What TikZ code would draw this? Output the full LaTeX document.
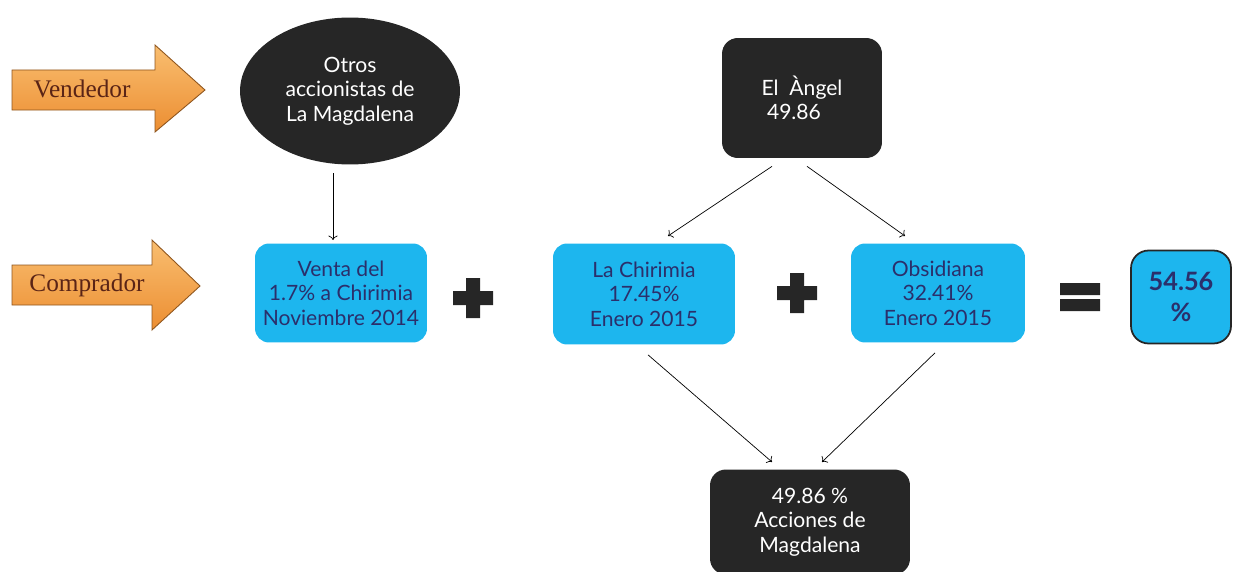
\documentclass[tikz,border=0pt]{standalone}
\usepackage{fontspec}
\setmainfont{Liberation Serif}
\setsansfont{Lato}
\usetikzlibrary{shapes.geometric,arrows.meta}

\definecolor{oscuro}{HTML}{262626}
\definecolor{celeste}{HTML}{1DB6EE}
\definecolor{azultxt}{HTML}{2B2F6B}
\definecolor{naranja}{HTML}{EC8E32}
\definecolor{naranjaclaro}{HTML}{F9BE70}
\definecolor{marron}{HTML}{5A2416}

\tikzset{
	negro/.style={fill=oscuro,text=white,font=\sffamily\large,align=center,inner sep=2pt},
	caja/.style={rectangle,rounded corners=8pt,fill=celeste,text=azultxt,font=\sffamily\large,align=center,inner sep=2pt},
	flecha/.style={top color=naranjaclaro,bottom color=naranja,draw=naranja!60!black,line width=0.5pt},
	signo/.style={fill=oscuro}
}

\begin{document}
\begin{tikzpicture}[x=0.02cm,y=-0.02cm]
	\useasboundingbox (0,0) rectangle (1233,571);
	% flechas de la izquierda
	\path[flecha] (12,70) -- (155,70) -- (155,45) -- (205,90) -- (155,132) -- (155,110) -- (12,110) -- cycle;
	\path[flecha] (12,265) -- (152,265) -- (152,240) -- (200,286) -- (152,330) -- (152,305) -- (12,305) -- cycle;
	\node[text=marron,font=\rmfamily\Large] (vend) at (82,89) {Vendedor};
	\node[text=marron,font=\rmfamily\Large] (comp) at (87,285) {Comprador};

	% nodos
	\node[negro,ellipse,minimum width=4.4cm,minimum height=2.94cm] (otros) at (350,91) {Otros\\accionistas de\\La Magdalena};
	\node[negro,rectangle,rounded corners=9pt,minimum width=3.2cm,minimum height=2.4cm,align=left] (angel) at (802,98) {El~~Àngel\\~49.86};
	\node[caja,minimum width=3.44cm,minimum height=1.98cm] (venta) at (341,293) {Venta del\\1.7\% a Chirimia\\Noviembre 2014};
	\node[caja,minimum width=3.64cm,minimum height=2.02cm] (chiri) at (644,294) {La Chirimia\\17.45\%\\Enero 2015};
	\node[caja,minimum width=3.48cm,minimum height=1.98cm] (obsi) at (938,293) {Obsidiana\\32.41\%\\Enero 2015};
	\node[caja,draw=oscuro,line width=1pt,rounded corners=10pt,minimum width=2.0cm,minimum height=1.86cm,font=\sffamily\Large\bfseries] (total) at (1181,297) {54.56\\\%};
	\node[negro,rectangle,rounded corners=9pt,minimum width=4.0cm,minimum height=2.1cm] (acc) at (810,522) {49.86 \%\\Acciones de\\Magdalena};

	% signos
	\path[signo] (466,278) rectangle (480,318) (453,291) rectangle (493,305);
	\path[signo] (790,273) rectangle (804,313) (777,286) rectangle (817,300);
	\path[signo] (1060,283) rectangle (1100,295) (1060,299) rectangle (1100,311);

	% conectores
	\coordinate (o1) at (333,173);
	\coordinate (v1) at (333,240);
	\draw[->] (o1) -- (v1);
	\draw[->] (angel.south) ++(-30,8) coordinate (a1) (a1) -- (668,236) coordinate (c1);
	\draw[->] (angel.south) ++(5,8) coordinate (a2) (a2) -- (905,236) coordinate (b1);
	\draw[->] (chiri.south) ++(4,10) coordinate (c2) (c2) -- (772,462) coordinate (d1);
	\draw[->] (obsi.south) ++(-3,10) coordinate (b2) (b2) -- (822,462) coordinate (d2);
\end{tikzpicture}
\end{document}
